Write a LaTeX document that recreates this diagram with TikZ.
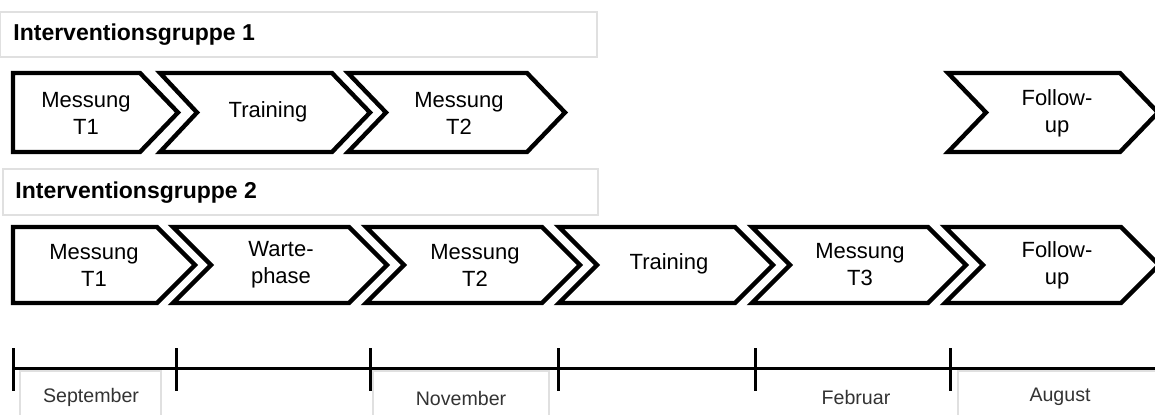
\documentclass[tikz,border=0pt]{standalone}
\usepackage{fontspec}
\setmainfont{Liberation Sans}
\newcommand\mychev[7]{% #1 left, #2 notch, #3 corner, #4 tip, #5 top, #6 bottom, #7 mid
  \path[shapebox] (#1,#5) -- (#3,#5) -- (#4,#7) -- (#3,#6) -- (#1,#6) -- (#2,#7) -- cycle;}
\newcommand\mypent[6]{% #1 left, #2 corner, #3 tip, #4 top, #5 bottom, #6 mid
  \path[shapebox] (#1,#4) -- (#2,#4) -- (#3,#6) -- (#2,#5) -- (#1,#5) -- cycle;}
\begin{document}
\begin{tikzpicture}[x=0.5pt,y=-0.5pt,
  shapebox/.style={draw=black,line width=2.2pt,line join=miter,miter limit=10,fill=white},
  lbl/.style={font=\fontsize{11}{13.5}\selectfont, align=center, inner sep=0pt},
  grouptitle/.style={font=\fontsize{11.5}{13}\selectfont\bfseries, anchor=west, inner sep=0pt},
  month/.style={font=\fontsize{9.8}{11}\selectfont, text=black!80, inner sep=0pt},
  frame/.style={draw=black!12, line width=0.6pt},
  axis/.style={line width=1.5pt}]
\useasboundingbox (0,0) rectangle (1155,414);

% title frames
\draw[frame] (0,12) rectangle (597,57);
\draw[frame] (3,169) rectangle (598,215);
\node[grouptitle] (t1) at (13,35) {Interventionsgruppe 1};
\node[grouptitle] (t2) at (15,193) {Interventionsgruppe 2};

% row 1
\mypent{13}{140}{178}{73}{152}{112.5}
\mychev{160}{197}{332}{370}{73}{152}{112.5}
\mychev{348}{386}{527}{565}{73}{152}{112.5}
\mychev{948}{986}{1120}{1158}{73}{152}{112.5}
\node[lbl] (a1) at (86,113) {Messung\\T1};
\node[lbl] (a2) at (268,112) {Training};
\node[lbl] (a3) at (459,113) {Messung\\T2};
\node[lbl] (a4) at (1057,113) {Follow-\\up};

% row 2
\mypent{13}{157}{195}{227}{303}{265}
\mychev{173}{211}{349}{387}{227}{303}{265}
\mychev{366}{404}{542}{580}{227}{303}{265}
\mychev{559}{597}{735}{773}{227}{303}{265}
\mychev{752}{790}{928}{966}{227}{303}{265}
\mychev{945}{983}{1121}{1159}{227}{303}{265}
\node[lbl] (b1) at (94,265) {Messung\\T1};
\node[lbl] (b2) at (281,265) {Warte-\\phase};
\node[lbl] (b3) at (475,265) {Messung\\T2};
\node[lbl] (b4) at (669,264) {Training};
\node[lbl] (b5) at (860,265) {Messung\\T3};
\node[lbl] (b6) at (1057,265) {Follow-\\up};

% month frames
\draw[frame] (20,420) -- (20,371) -- (161,371) -- (161,420);
\draw[frame] (373,420) -- (373,371) -- (549,371) -- (549,420);
\draw[frame] (958,420) -- (958,371) -- (1160,371);

% timeline
\coordinate (s) at (13,368);
\coordinate (e) at (1160,368);
\draw[axis] (s) -- (e);
\foreach \x in {13,176,370,558,755,950}
  \draw[axis] (\x,348) -- (\x,391);

\node[month] (m1) at (91,397) {September};
\node[month] (m2) at (461,398) {November};
\node[month] (m3) at (856,397) {Februar};
\node[month] (m4) at (1060,397) {August};
\end{tikzpicture}
\end{document}
